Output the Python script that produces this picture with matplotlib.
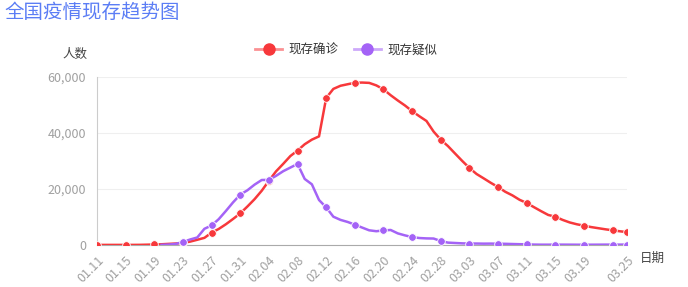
import numpy as np
import pandas as pd
import matplotlib
matplotlib.use("Agg")
import matplotlib.pyplot as plt
from matplotlib.lines import Line2D
from matplotlib.legend_handler import HandlerTuple
from matplotlib.ticker import FuncFormatter

plt.rcParams['font.family'] = ['Noto Sans CJK SC', 'DejaVu Sans']

# --- DATA ---
dates = [d.strftime("%m.%d") for d in pd.date_range("2020-01-11", "2020-03-25")]

confirmed = [
    36, 36, 36, 36, 36, 40, 56, 115, 190,
    260, 400, 526, 771, 1208, 1870, 2553, 4409, 5739, 7417, 9308, 11289,
    13748, 16369, 19381, 22942, 26302, 28985, 31774, 33738, 35982, 37626,
    38800, 52526, 55748, 56873, 57416, 57934, 58016, 57900, 57000, 55600,
    53500, 51606, 49824, 47800, 46000, 44300, 40500, 37600, 35329,
    32652, 30004, 27500, 25352, 23784, 22177, 20700, 19016, 17721, 16145,
    15000, 13526, 12094, 10734, 10100, 8976, 8056, 7400, 6900, 6400,
    6000, 5600, 5250, 4900, 4600,
]

suspected = [np.nan] * 9 + [
    50, 150, 393, 1072, 1965, 2684, 5794, 6973, 9239, 12167, 15238, 17988,
    19544, 21558, 23214, 23260, 24702, 26359, 27657, 28942, 23589, 21675,
    16067, 13435, 10109, 8969, 8228, 7264, 6242, 5248, 4922, 5206,
    5365, 4148, 3434, 2824, 2491, 2358, 2308, 1418, 851,
    715, 587, 520, 522, 482, 502, 458, 421, 349, 285,
    253, 147, 115, 113, 134, 128, 119, 105, 104, 106,
    118, 136, 132, 134, 159,
]

RED = "#f7383b"
PURPLE = "#a463f6"

x = np.arange(len(dates))
marks = list(range(0, len(dates), 4)) + [len(dates) - 1]
tick_idx = list(range(0, len(dates) - 4, 4)) + [len(dates) - 1]

fig = plt.figure(figsize=(6.88, 2.87), dpi=100)
ax = fig.add_axes([97 / 688, 1 - 245 / 287, 530 / 688, 168 / 287])

ax.plot(x, confirmed, color=RED, lw=1.8, marker='o', ms=5.5,
        markevery=marks, mec='white', mew=0.6, zorder=3)
ax.plot(x, suspected, color=PURPLE, lw=1.8, marker='o', ms=5.5,
        markevery=marks, mec='white', mew=0.6, zorder=4)

ax.set_xlim(0, len(dates) - 1)
ax.set_ylim(0, 60000)
ax.set_yticks([0, 20000, 40000, 60000])
ax.yaxis.set_major_formatter(FuncFormatter(lambda v, p: f"{int(v):,}"))
ax.set_xticks(tick_idx)
ax.set_xticklabels([dates[i] for i in tick_idx], rotation=45, ha='right',
                   va='top', rotation_mode='anchor')
ax.tick_params(axis='both', length=0, labelsize=9, labelcolor='#a0a0a0')
ax.tick_params(axis='x', pad=6)
ax.tick_params(axis='y', pad=8)

ax.grid(axis='y', color='#efefef', lw=0.8)
ax.set_axisbelow(True)
for s in ['top', 'right']:
    ax.spines[s].set_visible(False)
ax.spines['left'].set_color('#cccccc')
ax.spines['left'].set_linewidth(0.8)
ax.spines['bottom'].set_color('#aaaaaa')
ax.spines['bottom'].set_linewidth(0.8)

fig.text(4 / 688, 1 - 13 / 287, "全国疫情现存趋势图", fontsize=14,
         color='#5b7df5', va='center', ha='left')
fig.text(75 / 688, 1 - 54 / 287, "人数", fontsize=9, color='#444444',
         va='center', ha='center')
fig.text(640 / 688, 1 - 258 / 287, "日期", fontsize=9, color='#444444',
         va='center', ha='left')

handles = [
    (Line2D([], [], color=RED, lw=2, alpha=0.55),
     Line2D([], [], color=RED, marker='o', ls='', ms=8)),
    (Line2D([], [], color=PURPLE, lw=2, alpha=0.55),
     Line2D([], [], color=PURPLE, marker='o', ls='', ms=8)),
]
fig.legend(handles, ["现存确诊", "现存疑似"], loc='center',
           bbox_to_anchor=(346 / 688, 1 - 50 / 287), ncol=2, frameon=False,
           fontsize=9, labelcolor='#333333', handlelength=2.2,
           handletextpad=0.5, columnspacing=1.2,
           handler_map={tuple: HandlerTuple(ndivide=1)})

plt.savefig("out.png", dpi=100)
